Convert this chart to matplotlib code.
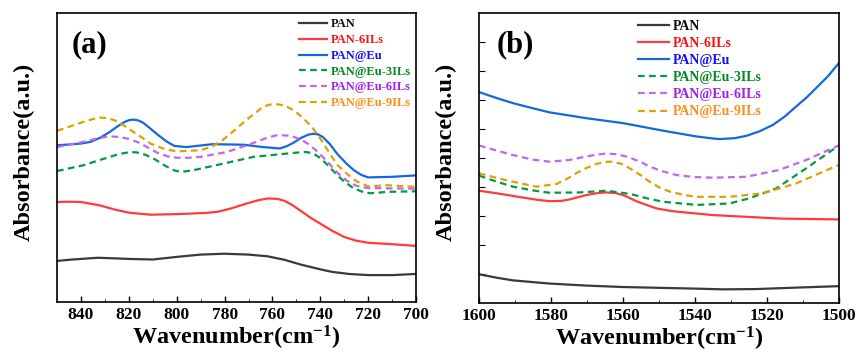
import matplotlib
matplotlib.use('Agg')
import matplotlib.pyplot as plt

plt.rcParams['font.family'] = 'Liberation Serif'
plt.rcParams['font.weight'] = 'bold'
plt.rcParams['mathtext.fontset'] = 'custom'
plt.rcParams['mathtext.rm'] = 'Liberation Serif:bold'
plt.rcParams['mathtext.bf'] = 'Liberation Serif:bold'
plt.rcParams['mathtext.it'] = 'Liberation Serif:bold'

labels = ['PAN', 'PAN-6ILs', 'PAN@Eu', 'PAN@Eu-3ILs', 'PAN@Eu-6ILs', 'PAN@Eu-9ILs']
line_colors = ['#3a3a3a', '#ff3b3b', '#1468dc', '#009a44', '#c266f0', '#e0a000']
text_colors = ['#111111', '#ff1010', '#1010ff', '#008a20', '#a020f0', '#ff8c1a']
styles = ['-', '-', '-', '--', '--', '--']

# panel (a): 850-700 cm-1
wn_a_pan = [850, 845, 840, 833, 826, 820, 810, 800, 790, 780, 770, 762, 755, 748, 740, 735, 728, 720, 710, 700]
y_a_pan = [14.2, 14.6, 14.9, 15.3, 15.1, 14.9, 14.7, 15.6, 16.4, 16.7, 16.4, 15.8, 14.6, 12.9, 11.3, 10.4, 9.7, 9.3, 9.3, 9.7]

wn_a_red = [850, 845, 840, 832, 826, 820, 811, 800, 788, 783, 778, 771, 766, 762, 758, 755, 752, 748, 744, 740, 735, 730, 725, 720, 710, 700]
y_a_red = [34.6, 34.7, 34.6, 33.4, 32.0, 30.9, 30.2, 30.4, 30.8, 31.2, 32.2, 34.0, 35.2, 35.8, 35.7, 35.0, 33.7, 31.4, 29.1, 27.1, 24.6, 22.5, 21.2, 20.5, 20.0, 19.4]

wn_a_blue = [850, 840, 836, 832, 828, 825, 822, 820, 818, 816, 814, 811, 808, 804, 801, 796, 785, 772, 764, 757, 754, 751, 748, 745, 743, 741, 739, 736, 733, 729, 726, 723, 720, 710, 700]
y_a_blue = [54.2, 54.8, 55.4, 56.8, 58.8, 60.6, 62.2, 62.9, 63.1, 62.8, 62.0, 60.0, 57.9, 55.4, 54.0, 53.6, 54.6, 54.4, 53.6, 53.1, 53.9, 55.2, 56.8, 57.9, 58.2, 58.0, 57.1, 54.6, 51.3, 47.8, 45.6, 44.0, 43.1, 43.3, 43.8]

wn_a_green = [850, 839, 828, 824, 820, 817, 813, 809, 805, 801, 798, 793, 782, 768, 757, 751, 746, 743, 740, 737, 734, 730, 726, 722, 719, 712, 700]
y_a_green = [45.3, 47.3, 50.2, 51.2, 51.8, 51.8, 50.9, 49.3, 47.2, 45.5, 45.0, 45.6, 47.6, 50.2, 51.1, 51.6, 51.9, 51.4, 49.8, 47.4, 44.8, 41.6, 39.3, 38.0, 37.6, 38.1, 38.3]

wn_a_purple = [850, 839, 832, 828, 824, 820, 816, 812, 808, 804, 800, 795, 790, 779, 768, 762, 758, 754, 751, 748, 745, 742, 739, 736, 733, 729, 725, 720, 700]
y_a_purple = [53.6, 55.4, 56.8, 57.3, 57.1, 56.4, 55.2, 53.4, 51.6, 50.4, 49.9, 49.9, 50.2, 51.9, 55.0, 56.9, 57.7, 57.6, 57.1, 56.2, 54.6, 52.6, 50.2, 47.6, 44.8, 42.0, 40.2, 39.4, 39.2]

wn_a_orange = [850, 844, 839, 835, 832, 829, 826, 822, 818, 814, 811, 805, 800, 790, 785, 781, 776, 771, 767, 764, 761, 758, 755, 751, 747, 743, 740, 736, 733, 729, 725, 720, 712, 700]
y_a_orange = [59.2, 60.9, 62.3, 63.3, 63.8, 63.6, 62.9, 61.0, 58.8, 56.6, 54.8, 52.9, 52.1, 52.5, 53.9, 55.9, 59.3, 62.9, 65.5, 67.5, 68.3, 68.4, 68.0, 66.3, 63.5, 60.0, 56.5, 51.3, 47.5, 44.4, 41.8, 40.0, 40.4, 39.8]

# panel (b): 1600-1500 cm-1
wn_b_pan = [1600, 1595, 1590.6, 1580.4, 1570.2, 1560, 1548.9, 1539.6, 1532.2, 1523, 1511.9, 1500]
y_b_pan = [9.9, 8.7, 7.8, 6.7, 6.0, 5.5, 5.2, 4.95, 4.7, 4.8, 5.3, 5.8]

wn_b_red = [1600, 1595, 1590.6, 1584, 1580.4, 1577, 1574.8, 1570.2, 1567, 1564.6, 1562, 1559.5, 1556.3, 1553, 1550.7, 1547, 1545.2, 1535, 1525.7, 1516.5, 1500]
y_b_red = [38.7, 37.8, 36.9, 35.6, 35.1, 35.2, 35.7, 37.2, 37.9, 38.1, 37.9, 37.0, 35.1, 33.6, 32.6, 31.8, 31.5, 30.3, 29.7, 29.1, 28.8]

wn_b_blue = [1600, 1595, 1590.6, 1585, 1580.4, 1570.2, 1560, 1548.9, 1539.6, 1535, 1533.1, 1529, 1525.7, 1522, 1518.3, 1515, 1511.9, 1509, 1506.3, 1503, 1500]
y_b_blue = [72.7, 70.6, 68.9, 67.1, 65.7, 63.7, 62.0, 59.4, 57.4, 56.7, 56.5, 56.8, 57.6, 59.2, 61.4, 64.3, 67.7, 70.8, 74.1, 78.2, 82.7]

wn_b_purple = [1600, 1595, 1590.6, 1585, 1580.4, 1574.8, 1570.2, 1567, 1564.6, 1562, 1559.1, 1555, 1552.6, 1549, 1545.2, 1540, 1535, 1525.7, 1516.5, 1509.1, 1500]
y_b_purple = [54.3, 52.5, 51.0, 49.4, 48.7, 49.3, 50.5, 51.2, 51.5, 51.3, 50.5, 48.6, 47.0, 45.4, 44.1, 43.4, 43.2, 43.5, 45.9, 49.3, 54.3]

wn_b_orange = [1600, 1595, 1590.6, 1584.1, 1578.5, 1575.5, 1573, 1570, 1567.4, 1565, 1563.2, 1560.5, 1558.1, 1555, 1552.6, 1550, 1547, 1543, 1539.6, 1530.4, 1521.1, 1511.9, 1500]
y_b_orange = [44.7, 43.1, 41.8, 40.1, 41.0, 42.8, 44.7, 46.6, 47.9, 48.6, 48.7, 48.0, 46.4, 44.0, 41.8, 39.9, 38.4, 37.2, 36.6, 36.6, 37.8, 41.2, 47.6]

wn_b_green = [1600, 1595, 1590.6, 1585, 1580.4, 1572, 1564.6, 1558.1, 1553, 1548.9, 1539.6, 1530.4, 1524.8, 1517.4, 1509.1, 1500]
y_b_green = [43.9, 41.8, 40.1, 38.8, 38.0, 38.1, 38.7, 37.6, 36.0, 34.9, 33.8, 34.3, 36.1, 39.5, 46.4, 54.3]

panel_a = [(wn_a_pan, y_a_pan), (wn_a_red, y_a_red), (wn_a_blue, y_a_blue),
           (wn_a_green, y_a_green), (wn_a_purple, y_a_purple), (wn_a_orange, y_a_orange)]
panel_b = [(wn_b_pan, y_b_pan), (wn_b_red, y_b_red), (wn_b_blue, y_b_blue),
           (wn_b_green, y_b_green), (wn_b_purple, y_b_purple), (wn_b_orange, y_b_orange)]

fig = plt.figure(figsize=(8.59, 3.56), dpi=100)
ax1 = fig.add_axes([0.0664, 0.1517, 0.418, 0.812])
ax2 = fig.add_axes([0.5576, 0.1489, 0.419, 0.815])

for ax, panel, tag, tag_x, xlim, major, minor, leg_x, leg_fs in [
        (ax1, panel_a, '(a)', 0.04, (850, 700), range(840, 699, -20), range(850, 699, -10), 0.643, 9),
        (ax2, panel_b, '(b)', 0.05, (1600, 1500), range(1600, 1499, -20), range(1600, 1499, -10), 0.408, 10)]:
    for (x, y), c, ls, lab in zip(panel, line_colors, styles, labels):
        if ls == '--':
            ax.plot(x, y, color=c, lw=1.6, label=lab, dashes=(3, 2))
        else:
            ax.plot(x, y, color=c, lw=1.6, label=lab)
    ax.set_xlim(*xlim)
    ax.set_ylim(0, 100)
    ax.set_xticks(list(major))
    ax.set_xticks(list(minor), minor=True)
    ax.tick_params(axis='x', direction='in', labelsize=12.5, length=4, width=1)
    ax.tick_params(axis='x', which='minor', direction='in', length=2.5)
    for t in ax.get_xticklabels():
        t.set_fontweight('bold')
    ax.set_xlabel('Wavenumber(cm$^{-1}$)', fontsize=17.5, fontweight='bold', labelpad=1)
    ax.set_ylabel('Absorbance(a.u.)', fontsize=17.5, fontweight='bold')
    ax.yaxis.set_label_coords(-0.062, 0.52)
    for s in ax.spines.values():
        s.set_linewidth(1.2)
    ax.text(tag_x, 0.89, tag, transform=ax.transAxes, fontsize=22, fontweight='bold', va='center')
    leg = ax.legend(loc='upper left', bbox_to_anchor=(leg_x, 1.02), frameon=False,
                    handlelength=2.2, handletextpad=0.3, labelspacing=0.3,
                    prop={'weight': 'bold', 'size': leg_fs})
    for t, c in zip(leg.get_texts(), text_colors):
        t.set_color(c)

ax1.set_yticks([])
ax2.set_yticks(range(10, 100, 10))
ax2.tick_params(axis='y', direction='in', length=4, labelleft=False)

fig.savefig('out.png', dpi=100)
